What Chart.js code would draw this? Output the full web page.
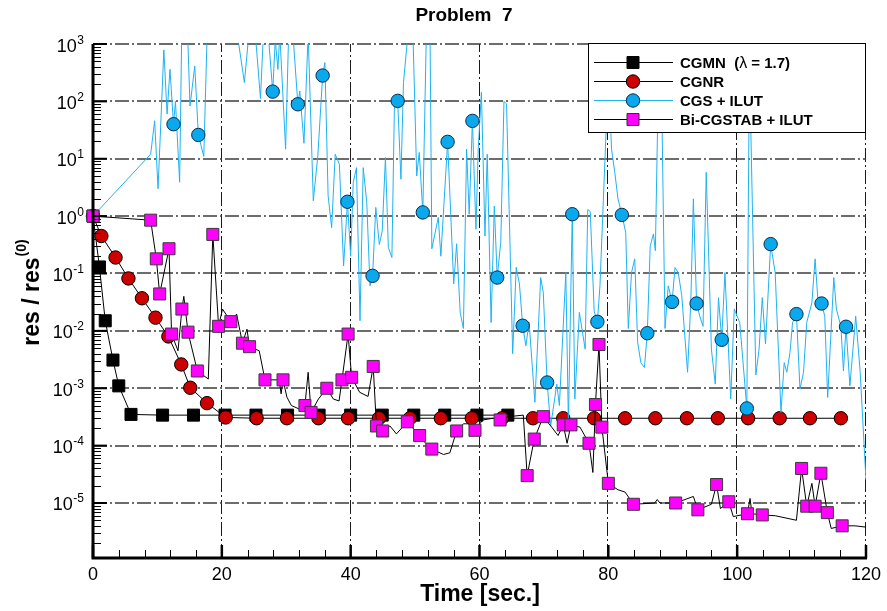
<!DOCTYPE html>
<html>
<head>
<meta charset="utf-8">
<script src="https://cdn.jsdelivr.net/npm/chart.js@4.4.0/dist/chart.umd.min.js"></script>
<style>
  html, body { margin: 0; padding: 0; background: #fff; }
  #wrap { width: 887px; height: 611px; }
</style>
</head>
<body>
<div id="wrap"><canvas id="c" width="887" height="611"></canvas></div>
<script>
// --- data ---
const xTicks = [0, 20, 40, 60, 80, 100, 120]
const yExponents = [3, 2, 1, 0, -1, -2, -3, -4, -5]

// CGMN (lambda = 1.7)
const cgmnTime = [0, 1.0, 1.9, 3.1, 4.0, 5.9, 10.8, 15.6, 20.5, 25.3, 30.2, 35.1, 40.0, 44.9, 49.8, 54.6, 59.6, 64.4]
const cgmnRes = [1, 0.13, 0.015, 0.0031, 0.0011, 3.5e-4, 3.4e-4, 3.4e-4, 3.4e-4, 3.4e-4, 3.4e-4, 3.4e-4, 3.4e-4, 3.4e-4, 3.4e-4, 3.4e-4, 3.4e-4, 3.4e-4]

// CGNR
const cgnrTime = [0, 1.3, 3.5, 5.5, 7.6, 9.7, 11.7, 13.7, 15.1, 17.7, 20.6, 25.4, 30.1, 35.0, 39.6, 44.4, 49.2, 54.0, 58.8, 63.5, 68.3, 73.0, 77.8, 82.6, 87.3, 92.2, 97.0, 101.7, 106.6, 111.3, 116.1]
const cgnrRes = [1, 0.45, 0.19, 0.082, 0.037, 0.017, 0.008, 0.0026, 0.00102, 5.5e-4, 3.1e-4, 3.0e-4, 3.0e-4, 3.0e-4, 3.0e-4, 3.0e-4, 3.0e-4, 3.0e-4, 3.0e-4, 3.0e-4, 3.0e-4, 3.0e-4, 3.0e-4, 3.0e-4, 3.0e-4, 3.0e-4, 3.0e-4, 3.0e-4, 3.0e-4, 3.0e-4, 3.0e-4]

// CGS + ILUT : full history line
const cgsTime = [0, 8.95, 9.57, 10.1, 11.0, 11.5, 11.95, 12.5, 12.8, 13.45, 13.8, 14.6, 15.06, 15.8, 16.35, 17.2, 17.75, 18.5, 20.2, 22.0,
  23.5, 24.3, 25.2, 26.0, 26.5, 27.2, 27.9, 28.3, 28.7, 29.0, 29.9, 30.4, 31.1, 31.8, 32.1, 32.75, 33.4, 34.2, 34.9, 35.65,
  36.0, 36.5, 37.05, 37.6, 38.25, 38.9, 39.5, 40.0, 40.4, 40.9, 41.45, 41.95, 42.5, 43.0, 43.4, 43.9, 44.45, 44.9, 45.4, 45.85,
  46.4, 46.8, 47.3, 47.8, 48.2, 48.9, 49.6, 50.25, 50.65, 51.2, 51.8, 52.3, 52.6, 53.6, 54.0, 55.05, 56.0, 56.45, 57.0, 57.5,
  58.0, 58.4, 58.9, 59.45, 59.8, 60.3, 60.85, 61.2, 61.8, 62.3, 62.75, 63.3, 63.8, 64.2, 65.15, 65.7, 66.2, 66.7, 67.2, 67.7,
  68.6, 69.5, 69.9, 70.5, 71.05, 72.0, 72.4, 73.4, 73.8, 74.4, 74.8, 75.5, 76.4, 76.8, 77.2, 77.8, 78.3, 78.7, 80.0, 80.5,
  81.0, 81.5, 82.1, 82.7, 83.1, 83.6, 84.1, 84.55, 85.05, 85.6, 86.05, 86.5, 87.0, 87.3, 87.75, 88.2, 88.8, 89.3, 89.9, 90.35,
  90.85, 91.4, 92.3, 92.8, 93.2, 93.7, 94.2, 94.7, 95.2, 96.0, 96.6, 97.1, 97.6, 98.1, 99.0, 99.55, 100.4, 101.5, 101.9, 102.9,
  103.4, 103.9, 104.4, 105.2, 105.9, 106.8, 107.3, 107.7, 108.2, 108.6, 109.2, 109.75, 110.3, 110.8, 111.6, 112.1, 112.6, 113.1, 113.6, 114.05,
  115.0, 115.4, 116.1, 116.5, 116.9, 117.5, 118.4, 119.1, 120]
const cgsRes = [1, 12, 46, 3, 790, 60, 363, 40, 100, 3.9, 2500, 3000, 83, 415, 26, 11, 2000, 5000, 4000, 3000,
  213, 2000, 1500, 112, 2000, 1500, 148, 1200, 360, 1500, 14.7, 2000, 1200, 89, 152, 18.6, 1500, 1.85, 11.2, 282,
  475, 2.26, 0.63, 12, 8, 0.136, 1.78, 0.2, 3.86, 7, 0.015, 7, 1.73, 0.061, 0.091, 1.42, 0.32, 0.55, 10.5, 0.285,
  0.19, 95, 102, 4.4, 214, 1500, 3000, 5.0, 12.9, 1.16, 3000, 3000, 0.27, 0.95, 0.2, 19.7, 0.066, 0.33, 0.021, 0.011,
  14.7, 1.08, 45.7, 0.59, 14.7, 144, 0.45, 12, 0.014, 1.5, 0.085, 0.35, 100, 90, 0.004, 0.128, 0.066, 0.0123, 0.0055, 0.014,
  5.7e-4, 0.085, 0.047, 1.26e-3, 2.2e-4, 1.18e-3, 5e-4, 0.104, 2.5e-4, 1.08, 6.5e-4, 0.021, 0.0048, 1.3, 1.2, 0.022, 0.0144, 0.061, 300, 14.7,
  5.8, 2.0, 1.05, 0.52, 0.011, 0.104, 0.18, 0.0063, 0.0028, 0.0023, 0.0091, 0.30, 0.49, 0.25, 163, 500, 0.011, 0.061, 0.032, 0.127,
  0.104, 0.041, 0.0019, 0.031, 2, 0.030, 0.018, 0.012, 5.8, 0.0048, 1.18e-3, 0.038, 0.007, 0.104, 6.5e-4, 0.024, 0.014, 4.45e-4, 500, 0.0017,
  0.0048, 0.038, 0.0059, 0.325, 0.104, 3.8e-4, 0.0028, 0.0019, 0.0042, 0.014, 0.0196, 9.7e-4, 0.0019, 0.014, 0.031, 0.18, 0.027, 0.030, 0.018, 6.9e-4,
  0.085, 0.024, 0.012, 0.002, 0.0118, 1.1e-3, 0.018, 0.0019, 2.5e-5]
// CGS + ILUT : plotted symbols
const cgsMarkTime = [0, 12.5, 16.35, 27.9, 31.8, 35.65, 39.5, 43.4, 47.3, 51.2, 55.05, 58.9, 62.75, 66.7, 70.5, 74.4, 78.3, 82.1, 86.05, 89.9, 93.7, 97.6, 101.5, 105.2, 109.2, 113.1, 116.9]
const cgsMarkRes = [1, 40, 26, 148, 89, 282, 1.78, 0.091, 102, 1.16, 19.7, 45.7, 0.085, 0.0123, 1.26e-3, 1.08, 0.0144, 1.05, 0.0091, 0.032, 0.030, 0.007, 4.45e-4, 0.325, 0.0196, 0.030, 0.0118]

// Bi-CGSTAB + ILUT : full history line
const bicgTime = [0, 8.95, 9.83, 10.35, 11.8, 12.2, 13.2, 13.8, 14.1, 14.75, 16.2, 17.9, 18.6, 19.5, 20.1, 21.4, 22.3, 23.2, 23.9, 24.3,
  25.8, 26.7, 28.9, 29.2, 29.5, 30.1, 30.8, 32.1, 32.9, 33.4, 33.85, 35.0, 36.3, 37.3, 38.2, 38.65, 39.6, 40.15, 41.4, 42.7,
  43.5, 44.0, 44.97, 46.1, 47.1, 48.8, 50.7, 51.3, 52.6, 54.4, 55.4, 56.45, 57.5, 58.3, 59.3, 60.5, 62.1, 63.2, 64.5, 66.8,
  67.4, 68.5, 69.9, 71.2, 72.2, 73.0, 73.6, 74.2, 75.6, 77.0, 77.6, 78.0, 78.55, 79.0, 80.0, 81.5, 82.6, 83.9, 87.2, 87.6,
  88.0, 90.45, 93.2, 93.9, 96.0, 96.8, 97.4, 98.7, 99.4, 101.6, 102.0, 102.3, 103.9, 105.9, 109.2, 110.0, 110.8, 111.6, 112.1, 113.0,
  114.0, 114.6, 116.3, 118.3, 120]
const bicgRes = [1, 0.85, 0.18, 0.044, 0.27, 0.0088, 0.0045, 0.024, 0.04, 0.0095, 0.0020, 0.00145, 0.48, 0.012, 0.024, 0.0145, 0.0196, 0.0061, 0.0107, 0.0053,
  0.0045, 0.0014, 0.0014, 8e-4, 0.0014, 7e-4, 5e-4, 4.3e-4, 5.0e-4, 1.9e-3, 3.8e-4, 6.5e-4, 1e-3, 6.5e-4, 6e-4, 1.4e-3, 0.0088, 1.55e-3, 8.5e-4, 7.2e-4,
  2.4e-3, 2.2e-4, 1.8e-4, 2.2e-4, 1.6e-4, 2.6e-4, 1.5e-4, 1.2e-4, 8.7e-5, 7e-5, 7.5e-5, 1.8e-4, 2.4e-4, 2.4e-4, 1.85e-4, 2.8e-4, 3.0e-4, 2.8e-4, 3.2e-4, 3.4e-4,
  3.0e-5, 1.3e-4, 3.2e-4, 2.1e-4, 1.5e-4, 2.3e-4, 1.1e-4, 2.3e-4, 2.1e-4, 1.1e-4, 3.4e-5, 5.2e-4, 0.0058, 2.1e-4, 2.2e-5, 1.7e-5, 1.55e-5, 9.5e-6, 1.0e-5, 1.15e-5,
  1.0e-5, 1.0e-5, 1.3e-5, 7.6e-6, 9.5e-6, 2.1e-5, 8e-6, 1.05e-5, 5.8e-6, 6.5e-6, 1.2e-5, 6.5e-6, 6.2e-6, 6e-6, 5e-6, 4.0e-5, 8.8e-6, 2.2e-5, 8.8e-6, 3.3e-5,
  6.8e-6, 3.6e-6, 4.0e-6, 4.0e-6, 3.8e-6]
// Bi-CGSTAB + ILUT : plotted symbols
const bicgMarkTime = [0, 8.95, 9.83, 10.35, 11.8, 12.2, 13.8, 14.75, 16.2, 18.6, 19.5, 21.4, 23.2, 24.3, 26.7, 29.5, 32.9, 33.85, 36.3, 38.65,
  39.6, 40.15, 43.5, 44.0, 44.97, 48.8, 50.7, 52.6, 56.45, 59.3, 63.2, 67.4, 68.5, 69.9, 73.0, 74.2, 77.0, 78.0, 78.55, 79.0,
  80.0, 83.9, 90.45, 93.9, 96.8, 98.7, 101.6, 103.9, 110.0, 110.8, 112.1, 113.0, 114.0, 116.3]
const bicgMarkRes = [1, 0.85, 0.18, 0.044, 0.27, 0.0088, 0.024, 0.0095, 0.0020, 0.48, 0.012, 0.0145, 0.0061, 0.0053, 0.0014, 0.0014, 5.0e-4, 3.8e-4, 1e-3, 1.4e-3,
  0.0088, 1.55e-3, 2.4e-3, 2.2e-4, 1.8e-4, 2.6e-4, 1.5e-4, 8.7e-5, 1.8e-4, 1.85e-4, 2.8e-4, 3.0e-5, 1.3e-4, 3.2e-4, 2.3e-4, 2.3e-4, 1.1e-4, 5.2e-4, 0.0058, 2.1e-4,
  2.2e-5, 9.5e-6, 1.0e-5, 7.6e-6, 2.1e-5, 1.05e-5, 6.5e-6, 6.2e-6, 4.0e-5, 8.8e-6, 8.8e-6, 3.3e-5, 6.8e-6, 4.0e-6]

const legendLabels = ['CGMN', 'CGNR', 'CGS + ILUT', 'Bi-CGSTAB + ILUT']

// --- styling ---
const FONT = '"Liberation Sans", Arial, Helvetica, sans-serif'
const cyanLine = '#1fb2f2'
const cyanFill = '#0aa8ec'
const redFill = '#cc0000'
const magFill = '#ff00ff'

const pairs = (t, v) => t.map((x, i) => ({ x: x, y: v[i] }))

function marker(ctx, kind, fill, stroke, x, y) {
  ctx.save()
  ctx.setLineDash([])
  ctx.fillStyle = fill
  ctx.strokeStyle = stroke
  ctx.lineWidth = 1
  ctx.beginPath()
  if (kind === 'rect') ctx.rect(x - 6, y - 6, 12, 12)
  else ctx.arc(x, y, 6.7, 0, Math.PI * 2)
  ctx.fill()
  ctx.stroke()
  ctx.restore()
}

const frame = {
  id: 'frame',
  beforeDatasetsDraw(chart) {
    const { ctx, chartArea: a, scales: { x, y } } = chart
    ctx.save()
    ctx.setLineDash([14, 3, 2, 3])
    ctx.lineWidth = 1
    ctx.strokeStyle = '#1a1a1a'
    xTicks.forEach(t => {  // vertical dash-dot grid
      if (t === 0) return
      const px = Math.round(x.getPixelForValue(t)) - 0.5
      ctx.beginPath(); ctx.moveTo(px, a.bottom); ctx.lineTo(px, a.top); ctx.stroke()
    })
    ctx.lineWidth = 1.3
    ctx.strokeStyle = '#3c3c3c'
    yExponents.forEach(e => {  // horizontal dash-dot grid, a bit heavier and greyer
      const py = Math.round(y.getPixelForValue(Math.pow(10, e)))
      ctx.beginPath(); ctx.moveTo(a.left, py); ctx.lineTo(a.right, py); ctx.stroke()
    })
    ctx.restore()
  },
  afterDatasetsDraw(chart) {
    const ctx = chart.ctx
    // legend box
    ctx.save()
    ctx.fillStyle = '#fff'
    ctx.fillRect(588, 43, 278, 90)
    ctx.strokeStyle = '#000'
    ctx.lineWidth = 1
    ctx.strokeRect(588.5, 43.5, 277, 89)
    const rows = [62, 81, 100, 119]
    const kinds = [['rect', '#000', '#000', '#000'], ['circle', redFill, '#000', '#000'], ['circle', cyanFill, '#0a2a4a', cyanLine], ['rect', magFill, '#333', '#000']]
    rows.forEach((ry, i) => {
      ctx.strokeStyle = kinds[i][3]
      ctx.lineWidth = 1
      ctx.beginPath(); ctx.moveTo(594, ry + 0.5); ctx.lineTo(673, ry + 0.5); ctx.stroke()
      marker(ctx, kinds[i][0], kinds[i][1], kinds[i][2], 633, ry + 0.5)
      ctx.fillStyle = '#000'
      ctx.textBaseline = 'alphabetic'
      ctx.textAlign = 'left'
      ctx.font = 'bold 15px ' + FONT
      ctx.fillText(legendLabels[i], 680, ry + 5.5)
      if (i === 0) {
        let lx = 680 + ctx.measureText(legendLabels[0] + '  (').width
        ctx.fillText('  (', 680 + ctx.measureText(legendLabels[0]).width, ry + 5.5)
        ctx.font = '16px ' + FONT
        ctx.fillText('\u03bb', lx, ry + 5.5)
        lx += ctx.measureText('\u03bb').width
        ctx.font = 'bold 15px ' + FONT
        ctx.fillText(' = 1.7)', lx, ry + 5.5)
      }
    })
    ctx.restore()
  },
  afterDraw(chart) {
    const { ctx, chartArea: a, scales: { x, y } } = chart
    ctx.save()
    ctx.setLineDash([])
    ctx.strokeStyle = '#000'
    ctx.fillStyle = '#000'
    // minor ticks, bottom
    ctx.lineWidth = 1
    for (let t = 4; t < 120; t += 4) {
      if (t % 20 === 0) continue
      const px = Math.round(x.getPixelForValue(t)) + 0.5
      ctx.beginPath(); ctx.moveTo(px, a.bottom); ctx.lineTo(px, a.bottom - 8); ctx.stroke()
    }
    // minor ticks, left
    for (let e = -6; e < 3; e++) {
      for (let m = 2; m <= 9; m++) {
        const v = m * Math.pow(10, e)
        if (v < y.min) continue
        const py = Math.round(y.getPixelForValue(v)) + 0.5
        ctx.beginPath(); ctx.moveTo(a.left, py); ctx.lineTo(a.left + 8, py); ctx.stroke()
      }
    }
    // major ticks
    ctx.lineWidth = 2.5
    xTicks.forEach(t => {
      const px = x.getPixelForValue(t)
      ctx.beginPath(); ctx.moveTo(px, a.bottom); ctx.lineTo(px, a.bottom - 13); ctx.stroke()
    })
    ctx.lineWidth = 2
    yExponents.forEach(e => {
      const py = y.getPixelForValue(Math.pow(10, e))
      ctx.beginPath(); ctx.moveTo(a.left, py); ctx.lineTo(a.left + 14, py); ctx.stroke()
    })
    // axis lines
    ctx.lineWidth = 3
    ctx.beginPath()
    ctx.moveTo(a.left, a.top)
    ctx.lineTo(a.left, a.bottom)
    ctx.lineTo(a.right + 1, a.bottom)
    ctx.stroke()

    // x tick labels
    ctx.font = '18px ' + FONT
    ctx.textAlign = 'center'
    ctx.textBaseline = 'alphabetic'
    xTicks.forEach(t => ctx.fillText(String(t), x.getPixelForValue(t), 580))
    // y tick labels 10^e
    yExponents.forEach(e => {
      const py = y.getPixelForValue(Math.pow(10, e))
      ctx.font = '12px ' + FONT
      const ew = ctx.measureText(String(e)).width
      ctx.textAlign = 'left'
      ctx.fillText(String(e), 84 - ew, py - 0.5)
      ctx.font = '18px ' + FONT
      ctx.textAlign = 'right'
      ctx.fillText('10', 84 - ew - 0.5, py + 7.5)
    })

    // titles
    ctx.textAlign = 'center'
    ctx.font = 'bold 19px ' + FONT
    ctx.fillText('Problem  7', 464, 21)
    ctx.font = 'bold 23px ' + FONT
    ctx.fillText('Time [sec.]', 480, 601)

    // y title, rotated
    ctx.translate(31, 293)
    ctx.rotate(-Math.PI / 2)
    ctx.textAlign = 'left'
    ctx.font = 'bold 23px ' + FONT
    const w1 = ctx.measureText('res / res').width
    ctx.font = 'bold 14px ' + FONT
    const w2 = ctx.measureText('(0)').width
    const sx = -(w1 + w2) / 2
    ctx.font = 'bold 23px ' + FONT
    ctx.fillText('res / res', sx, 8)
    ctx.font = 'bold 14px ' + FONT
    ctx.fillText('(0)', sx + w1 + 1, -5)
    ctx.restore()
  }
}

const edgeClip = { left: 12, top: 0, right: 12, bottom: 0 }

new Chart(document.getElementById('c'), {
  type: 'scatter',
  data: {
    datasets: [
      { label: 'Bi-CGSTAB + ILUT', data: pairs(bicgMarkTime, bicgMarkRes), showLine: false, pointStyle: 'rect', pointRadius: 8.5,
        pointBackgroundColor: magFill, pointBorderColor: '#3a3a3a', pointBorderWidth: 1, order: 0, clip: false },
      { label: 'Bi-CGSTAB line', data: pairs(bicgTime, bicgRes), showLine: true, borderColor: '#000', borderWidth: 1,
        pointRadius: 0, order: 1, clip: edgeClip },
      { label: 'CGS + ILUT', data: pairs(cgsMarkTime, cgsMarkRes), showLine: false, pointStyle: 'circle', pointRadius: 6.7,
        pointBackgroundColor: cyanFill, pointBorderColor: '#0a2a4a', pointBorderWidth: 1, order: 2, clip: false },
      { label: 'CGS line', data: pairs(cgsTime, cgsRes), showLine: true, borderColor: cyanLine, borderWidth: 1,
        pointRadius: 0, order: 3, clip: 0 },
      { label: 'CGNR', data: pairs(cgnrTime, cgnrRes), showLine: true, borderColor: '#000', borderWidth: 1,
        pointStyle: 'circle', pointRadius: 6.7, pointBackgroundColor: redFill, pointBorderColor: '#000', pointBorderWidth: 1,
        order: 4, clip: edgeClip },
      { label: 'CGMN', data: pairs(cgmnTime, cgmnRes), showLine: true, borderColor: '#000', borderWidth: 1,
        pointStyle: 'rect', pointRadius: 8.5, pointBackgroundColor: '#000', pointBorderColor: '#000', pointBorderWidth: 1,
        order: 5, clip: edgeClip }
    ]
  },
  options: {
    responsive: false,
    animation: false,
    devicePixelRatio: 1,
    events: [],
    layout: { padding: { left: 93, right: 21, top: 44, bottom: 53 } },
    scales: {
      x: { type: 'linear', min: 0, max: 120, display: false },
      y: { type: 'logarithmic', min: 1.1e-6, max: 1000, display: false }
    },
    plugins: { legend: { display: false }, tooltip: { enabled: false }, title: { display: false } }
  },
  plugins: [frame]
})
</script>
</body>
</html>
